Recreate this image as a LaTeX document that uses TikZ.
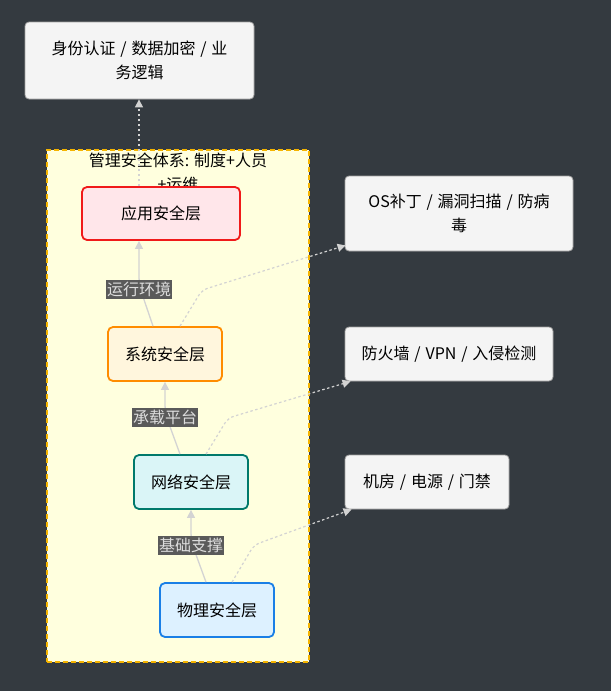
\documentclass[tikz,border=0pt]{standalone}
\usepackage{fontspec}
\setmainfont{Noto Sans CJK SC}
\usetikzlibrary{arrows.meta}
\definecolor{bgc}{HTML}{343A40}
\definecolor{clfill}{HTML}{FFFFDE}
\definecolor{clborder}{HTML}{F5B400}
\definecolor{boxfill}{HTML}{F4F4F4}
\definecolor{boxborder}{HTML}{A0A0A0}
\definecolor{appfill}{HTML}{FFE6EA}
\definecolor{appborder}{HTML}{F01A1A}
\definecolor{sysfill}{HTML}{FFF6DD}
\definecolor{sysborder}{HTML}{FF8C00}
\definecolor{netfill}{HTML}{DAF5F7}
\definecolor{netborder}{HTML}{00796B}
\definecolor{phyfill}{HTML}{DDF1FF}
\definecolor{phyborder}{HTML}{1A7FE6}
\definecolor{edgec}{HTML}{D3D3D3}
\definecolor{lblbg}{HTML}{5A5A5A}
\definecolor{lbltext}{HTML}{DDDDDD}
\newcommand{\sepsl}{\hspace{0.3em}/\hspace{0.3em}}
\tikzset{
  every node/.style={font=\fontsize{16pt}{24pt}\selectfont, inner sep=0pt},
  infobox/.style={draw=boxborder, fill=boxfill, rounded corners=4pt, line width=0.8pt, align=center},
  layerbox/.style={rounded corners=5pt, line width=1.8pt, minimum width=114pt, minimum height=54pt},
  solidedge/.style={draw=edgec, line width=1.3pt, -{Triangle[length=8pt,width=8pt]}},
  dotedge/.style={draw=edgec, line width=1.2pt, dash pattern=on 2.5pt off 2.5pt, -{Triangle[length=8pt,width=8pt]}},
  edgelabel/.style={fill=lblbg, text=lbltext, inner xsep=1pt, inner ysep=2pt, font=\fontsize{16pt}{18pt}\selectfont},
}
\begin{document}
\begin{tikzpicture}[x=1pt,y=-1pt]
\fill[bgc] (0,0) rectangle (611,691);
\useasboundingbox (0,0) rectangle (611,691);
% cluster
\node[draw=clborder, fill=clfill, dashed, dash pattern=on 5pt off 3pt, line width=1.5pt, minimum width=262pt, minimum height=512pt] (cl) at (178,406) {};
\node[align=center] (cltitle) at (178,172) {管理安全体系: 制度+人员\\+运维};
% top box
\node[infobox, minimum width=229pt, minimum height=77pt] (top) at (139.5,60.5) {身份认证\sepsl 数据加密\sepsl 业\\务逻辑};
% right boxes
\node[infobox, minimum width=228pt, minimum height=75pt] (os) at (459,213.5) {OS补丁\sepsl 漏洞扫描\sepsl 防病\\毒};
\node[infobox, minimum width=208pt, minimum height=54pt] (fw) at (449,354) {防火墙\sepsl VPN\sepsl 入侵检测};
\node[infobox, minimum width=164pt, minimum height=54pt] (mr) at (427,482) {机房\sepsl 电源\sepsl 门禁};
% layers
\node[layerbox, draw=appborder, fill=appfill, minimum width=158pt, minimum height=53pt] (app) at (161,213.5) {应用安全层};
\node[layerbox, draw=sysborder, fill=sysfill] (sys) at (165,354) {系统安全层};
\node[layerbox, draw=netborder, fill=netfill] (net) at (191,482) {网络安全层};
\node[layerbox, draw=phyborder, fill=phyfill] (phy) at (217,610) {物理安全层};
% dotted edges
\draw[dotedge] ([xshift=-22pt]app.north) -- ([xshift=-0.5pt]top.south);
\draw[dotedge, rounded corners=6pt] ([xshift=15pt]sys.north) -- (202,290) -- ([xshift=1pt,yshift=6pt]os.south west);
\draw[dotedge, rounded corners=6pt] ([xshift=15pt]net.north) -- (228,418) -- ([xshift=6pt]fw.south west);
\draw[dotedge, rounded corners=6pt] ([xshift=15pt]phy.north) -- (254,545) -- ([xshift=7pt]mr.south west);
% solid edges with labels
\draw[solidedge, rounded corners=8pt] ([xshift=-12pt]sys.north) -- (139,285) -- ([xshift=-22pt]app.south);
\node[edgelabel] (l1) at (139,289.5) {运行环境};
\draw[solidedge, rounded corners=8pt] ([xshift=-11pt]net.north) -- (165,413) -- (sys.south);
\node[edgelabel] (l2) at (165,417.5) {承载平台};
\draw[solidedge, rounded corners=8pt] ([xshift=-11pt]phy.north) -- (191,541) -- (net.south);
\node[edgelabel] (l3) at (191,545.5) {基础支撑};
\end{tikzpicture}
\end{document}
